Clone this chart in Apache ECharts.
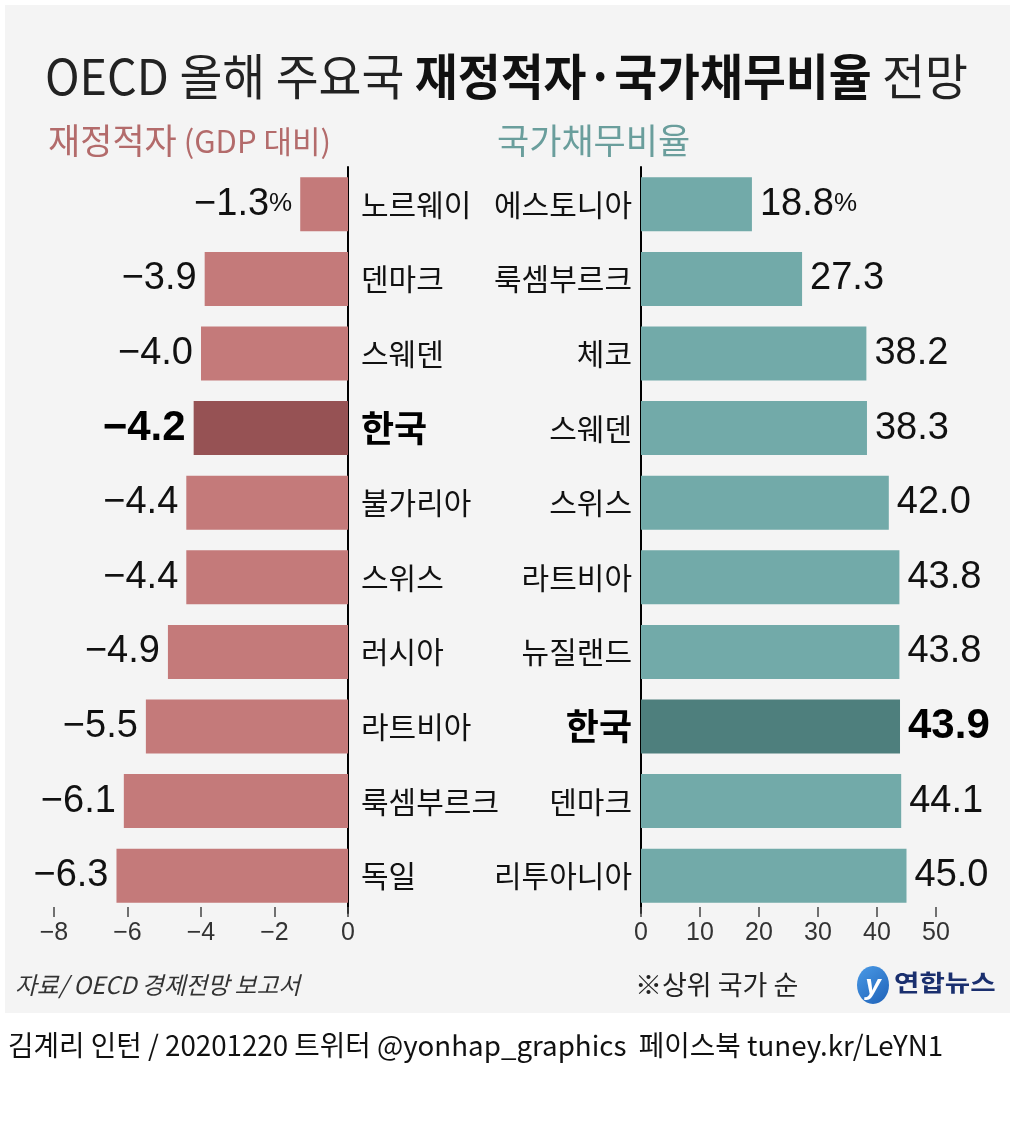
<!DOCTYPE html>
<html><head><meta charset="utf-8">
<script src="https://cdn.jsdelivr.net/npm/echarts@6/dist/echarts.min.js"></script>
<style>html,body{margin:0;padding:0;background:#fff}#c{width:1016px;height:1129px}</style>
</head><body><div id="c"></div>
<script>
const deficitCats = ['노르웨이','덴마크','스웨덴','한국','불가리아','스위스','러시아','라트비아','룩셈부르크','독일'];
const deficitVals = [-1.3,-3.9,-4.0,-4.2,-4.4,-4.4,-4.9,-5.5,-6.1,-6.3];
const debtCats = ['에스토니아','룩셈부르크','체코','스웨덴','스위스','라트비아','뉴질랜드','한국','덴마크','리투아니아'];
const debtVals = [18.8,27.3,38.2,38.3,42.0,43.8,43.8,43.9,44.1,45.0];
const deficitTicks = [-8,-6,-4,-2,0];
const debtTicks = [0,10,20,30,40,50];

const KR = '"Noto Sans CJK KR", "Noto Sans", sans-serif';
const NUM = '"Liberation Sans", Arial, sans-serif';
const HL = '한국';

const numRich = {
  v: {fontSize: 38, color: '#111', fontFamily: NUM},
  b: {fontSize: 42, color: '#000', fontFamily: NUM, fontWeight: 'bold'},
  p: {fontSize: 26, color: '#111', fontFamily: NUM}
};
const catRich = {
  n: {fontSize: 30, color: '#111', fontFamily: KR},
  k: {fontSize: 36, color: '#000', fontFamily: KR, fontWeight: 'bold'}
};
const fmtNum = (v) => (v < 0 ? '−' : '') + Math.abs(v).toFixed(1);

const leftData = deficitVals.map((v, i) => ({
  value: v,
  itemStyle: {color: deficitCats[i] === HL ? '#965254' : '#c47a7a'},
  label: {formatter: deficitCats[i] === HL ? '{b|' + fmtNum(v) + '}' : (i === 0 ? '{v|' + fmtNum(v) + '}{p|%}' : '{v|' + fmtNum(v) + '}')}
}));
const rightData = debtVals.map((v, i) => ({
  value: v,
  itemStyle: {color: debtCats[i] === HL ? '#4e7f7d' : '#72aaa9'},
  label: {formatter: debtCats[i] === HL ? '{b|' + fmtNum(v) + '}' : (i === 0 ? '{v|' + fmtNum(v) + '}{p|%}' : '{v|' + fmtNum(v) + '}')}
}));

const chart = echarts.init(document.getElementById('c'), null, {renderer: 'canvas'});
const tickAxis = (min, max, interval, ticks) => ({
  type: 'value', min: min, max: max, interval: interval,
  offset: -6,
  axisLine: {show: false},
  axisTick: {show: true, length: 10, lineStyle: {color: '#444', width: 1.5}},
  splitLine: {show: false},
  axisLabel: {
    margin: 14, color: '#333', fontSize: 25, fontFamily: NUM,
    formatter: (v) => ticks.indexOf(v) >= 0 ? ((v < 0 ? '−' : '') + Math.abs(v)) : ''
  }
});

chart.setOption({
  backgroundColor: '#ffffff',
  animation: false,
  grid: [
    {left: 54, right: 1016 - 348, top: 167, bottom: 1129 - 913, containLabel: false},
    {left: 641, right: 1016 - 936, top: 167, bottom: 1129 - 913, containLabel: false}
  ],
  xAxis: [
    Object.assign({gridIndex: 0}, tickAxis(-8, 0, 2, deficitTicks)),
    Object.assign({gridIndex: 1}, tickAxis(0, 50, 10, debtTicks))
  ],
  yAxis: [
    {
      gridIndex: 0, type: 'category', data: deficitCats, inverse: true, position: 'right',
      axisLine: {show: true, lineStyle: {color: '#000', width: 2}},
      axisTick: {show: false},
      axisLabel: {margin: 13, align: 'left', formatter: (v) => v === HL ? '{k|' + v + '}' : '{n|' + v + '}', rich: catRich}
    },
    {
      gridIndex: 1, type: 'category', data: debtCats, inverse: true, position: 'left',
      axisLine: {show: true, lineStyle: {color: '#000', width: 2}},
      axisTick: {show: false},
      axisLabel: {margin: 9, align: 'right', formatter: (v) => v === HL ? '{k|' + v + '}' : '{n|' + v + '}', rich: catRich}
    }
  ],
  series: [
    {
      type: 'bar', xAxisIndex: 0, yAxisIndex: 0, data: leftData, barWidth: 54,
      label: {show: true, position: 'left', distance: 8, rich: numRich}
    },
    {
      type: 'bar', xAxisIndex: 1, yAxisIndex: 1, data: rightData, barWidth: 54,
      label: {show: true, position: 'right', distance: 8, rich: numRich}
    }
  ],
  graphic: [
    {type: 'rect', z: -10, shape: {x: 5, y: 5, width: 1005, height: 1008}, style: {fill: '#f4f4f4'}, silent: true},
    {
      type: 'text', x: 45, y: 76, scaleX: 0.952, z: 10,
      style: {
        text: '{l|OECD 올해 주요국 }{b|재정적자·국가채무비율}{l| 전망}',
        verticalAlign: 'middle', align: 'left',
        rich: {
          l: {fontSize: 49, fontFamily: KR, fill: '#222', fontWeight: 'normal'},
          b: {fontSize: 49, fontFamily: KR, fill: '#111', fontWeight: 'bold'}
        }
      }
    },
    {
      type: 'text', x: 48, y: 141, scaleX: 1.0, z: 10,
      style: {
        text: '{a|재정적자}{c| (GDP 대비)}', verticalAlign: 'middle', align: 'left',
        rich: {
          a: {fontSize: 35, fontFamily: KR, fill: '#b36b6b'},
          c: {fontSize: 31, fontFamily: KR, fill: '#b36b6b'}
        }
      }
    },
    {
      type: 'text', x: 497, y: 141, scaleX: 1.0, z: 10,
      style: {text: '국가채무비율', verticalAlign: 'middle', align: 'left', fontSize: 35, fontFamily: KR, fill: '#6a9e9c'}
    },
    {
      type: 'text', x: 15, y: 985, scaleX: 0.99, z: 10,
      style: {text: '자료/ OECD 경제전망 보고서', verticalAlign: 'middle', align: 'left', fontSize: 24, fontStyle: 'italic', fontFamily: KR, fill: '#333'}
    },
    {
      type: 'text', x: 635, y: 985, scaleX: 1.0, z: 10,
      style: {text: '※상위 국가 순', verticalAlign: 'middle', align: 'left', fontSize: 27, fontFamily: KR, fill: '#222'}
    },
    {
      type: 'ellipse', z: 10, shape: {cx: 873, cy: 985, rx: 16, ry: 19},
      style: {fill: new echarts.graphic.LinearGradient(0, 0, 1, 1, [{offset: 0, color: '#4a9ae6'}, {offset: 1, color: '#1f62b8'}])}
    },
    {
      type: 'text', x: 873, y: 986, z: 11,
      style: {text: 'y', verticalAlign: 'middle', align: 'center', fontSize: 28, fontStyle: 'italic', fontFamily: NUM, fill: '#ffffff', fontWeight: 'bold'}
    },
    {
      type: 'text', x: 894, y: 982, scaleX: 1.2, z: 10,
      style: {text: '연합뉴스', verticalAlign: 'middle', align: 'left', fontSize: 23, fontWeight: 'bold', fontFamily: KR, fill: '#1a2f6e'}
    },
    {
      type: 'text', x: 8, y: 1045, scaleX: 0.99, z: 10,
      style: {text: '김계리 인턴 / 20201220 트위터 @yonhap_graphics  페이스북 tuney.kr/LeYN1', verticalAlign: 'middle', align: 'left', fontSize: 28, fontFamily: KR, fill: '#111'}
    }
  ]
});
</script>
</body></html>
